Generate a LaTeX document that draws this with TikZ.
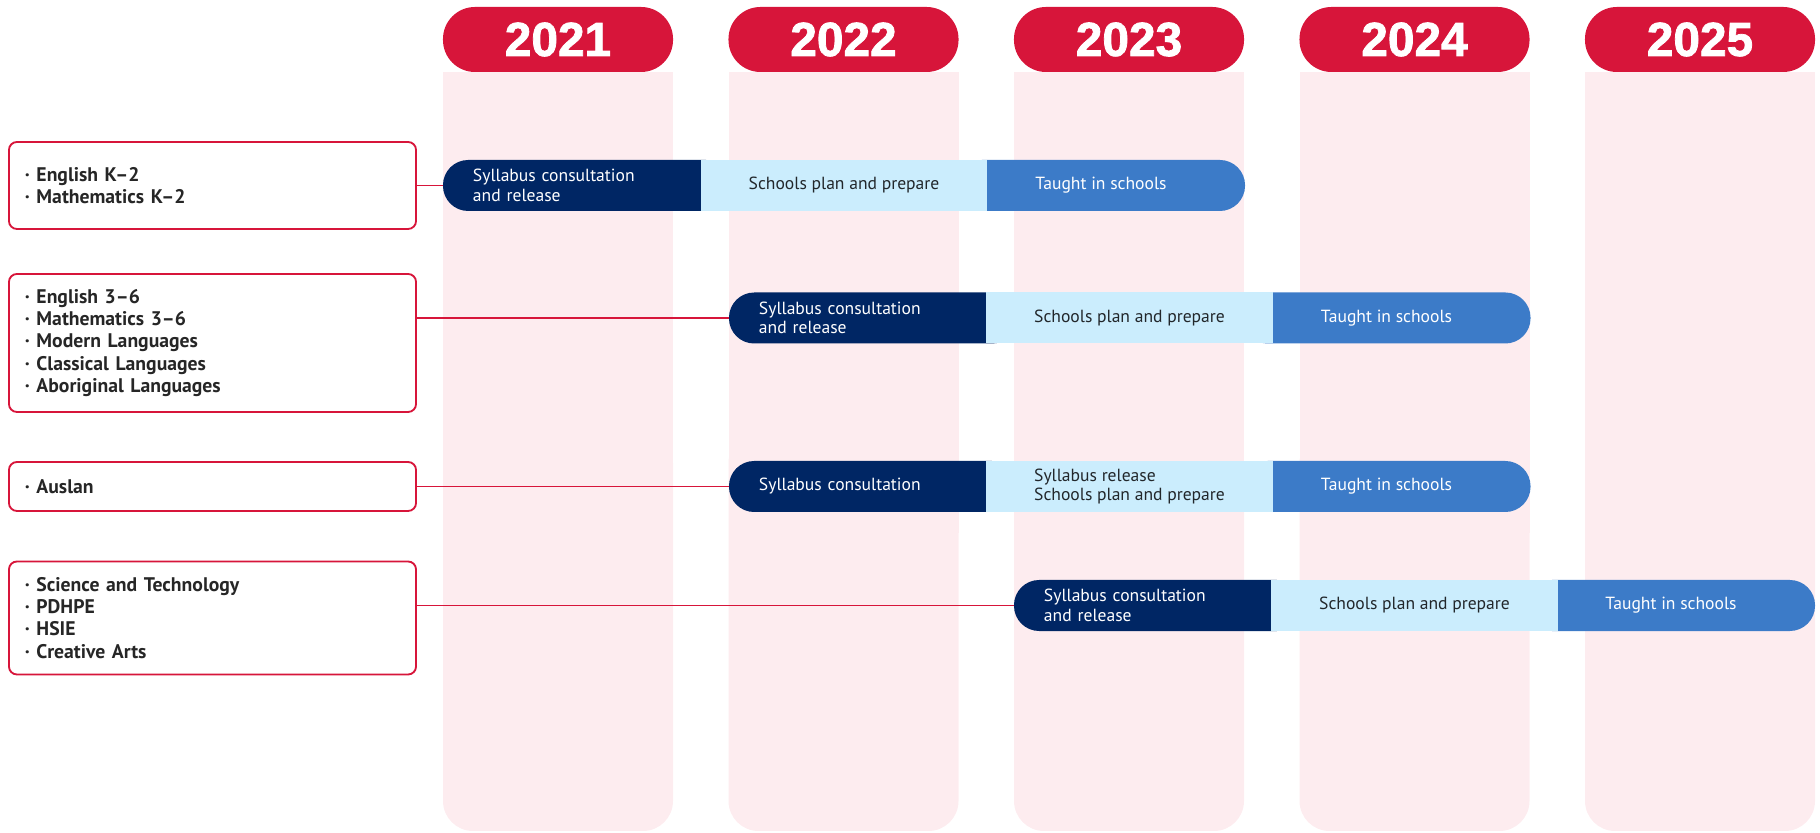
\documentclass[tikz,border=0pt]{standalone}
\usepackage{fontspec}
\setmainfont{PT Sans}
\newfontfamily\yearfont{Liberation Sans}[BoldFeatures={FakeBold=1.6}]
\usepackage{tikz}
\definecolor{nswred}{HTML}{D7153A}
\definecolor{colpink}{HTML}{FDECEF}
\definecolor{navy}{HTML}{002664}
\definecolor{skyblue}{HTML}{CBEDFD}
\definecolor{midblue}{HTML}{3C7BC8}
\definecolor{inkgrey}{HTML}{22272B}
\tikzset{%
  yearpill/.style = {shape=rectangle, rounded corners=0.8cm, fill=nswred,%
                     minimum width=5.75cm, minimum height=1.625cm,%
                     text=white, font=\yearfont\bfseries\fontsize{34}{34}\selectfont},%
  subject/.style  = {shape=rectangle, rounded corners=0.2cm, draw=nswred,%
                     line width=1.3pt, fill=white, text width=9.375cm,%
                     inner xsep=0.4cm, align=left, text=black!85,%
                     font=\bfseries\fontsize{14}{15.8}\selectfont},%
  phase/.style    = {shape=rectangle, minimum height=1.275cm, inner ysep=0pt,%
                     font=\fontsize{12.5}{13.8}\selectfont},%
  consult/.style  = {phase, rounded corners=0.63cm, fill=navy, text=white,%
                     text width=5.7cm, inner xsep=0.75cm, align=left},%
  prepare/.style  = {phase, fill=skyblue, text=inkgrey, minimum width=7.17cm, align=left},%
  taught/.style   = {phase, rounded corners=0.63cm, fill=midblue, text=white,%
                     minimum width=7.2cm}%
}

\begin{document}
\begin{tikzpicture}[x=0.025cm,y=0.025cm,
	link/.style={draw=nswred, line width=1.4pt}]
	\useasboundingbox (0,0) rectangle (1820,833);
	% year columns
	\fill[colpink] (443,761) rectangle (673,300);
	\fill[colpink, rounded corners=0.75cm] (443,400) rectangle (673,2);
	\fill[colpink] (728.5,761) rectangle (958.5,300);
	\fill[colpink, rounded corners=0.75cm] (728.5,400) rectangle (958.5,2);
	\fill[colpink] (1014,761) rectangle (1244,300);
	\fill[colpink, rounded corners=0.75cm] (1014,400) rectangle (1244,2);
	\fill[colpink] (1299.5,761) rectangle (1529.5,300);
	\fill[colpink, rounded corners=0.75cm] (1299.5,400) rectangle (1529.5,2);
	\fill[colpink] (1585,761) rectangle (1815,300);
	\fill[colpink, rounded corners=0.75cm] (1585,400) rectangle (1815,2);
	\node[yearpill] (y2021) at (558,793.5) {2021};
	\node[yearpill] (y2022) at (843.5,793.5) {2022};
	\node[yearpill] (y2023) at (1129,793.5) {2023};
	\node[yearpill] (y2024) at (1414.5,793.5) {2024};
	\node[yearpill] (y2025) at (1700,793.5) {2025};
	% subject groups
	\node[subject, minimum height=2.175cm] (sK2) at (212.5,647.5)
		{· English K--2\\· Mathematics K--2};
	\node[subject, minimum height=3.45cm] (s36) at (212.5,490)
		{· English 3--6\\· Mathematics 3--6\\· Modern Languages\\· Classical Languages\\· Aboriginal Languages};
	\node[subject, minimum height=1.225cm] (sAus) at (212.5,346.5) {· Auslan};
	\node[subject, minimum height=2.825cm] (sSci) at (212.5,215)
		{· Science and Technology\\· PDHPE\\· HSIE\\· Creative Arts};
	% timelines
	\node[taught] (r1t) at (1101,647.5) {Taught in schools};
	\node[consult] (r1c) at (587,647.5) {Syllabus consultation\\and release};
	\node[prepare] (r1p) at (844,647.5) {Schools plan and prepare};
	\node[taught] (r2t) at (1386.5,515) {Taught in schools};
	\node[consult] (r2c) at (873,515) {Syllabus consultation\\and release};
	\node[prepare] (r2p) at (1129.5,515) {Schools plan and prepare};
	\node[taught] (r3t) at (1386.5,346.5) {Taught in schools};
	\node[consult] (r3c) at (873,346.5) {Syllabus consultation};
	\node[prepare] (r3p) at (1129.5,346.5) {Syllabus release\\Schools plan and prepare};
	\node[taught] (r4t) at (1671,227.5) {Taught in schools};
	\node[consult] (r4c) at (1158,227.5) {Syllabus consultation\\and release};
	\node[prepare] (r4p) at (1414.5,227.5) {Schools plan and prepare};
	% connectors
	\draw[link] (sK2.east) -- (r1c.west);
	\draw[link] (s36.east |- r2c.west) -- (r2c.west);
	\draw[link] (sAus.east) -- (r3c.west);
	\draw[link] (sSci.east |- r4c.west) -- (r4c.west);
\end{tikzpicture}
\end{document}
